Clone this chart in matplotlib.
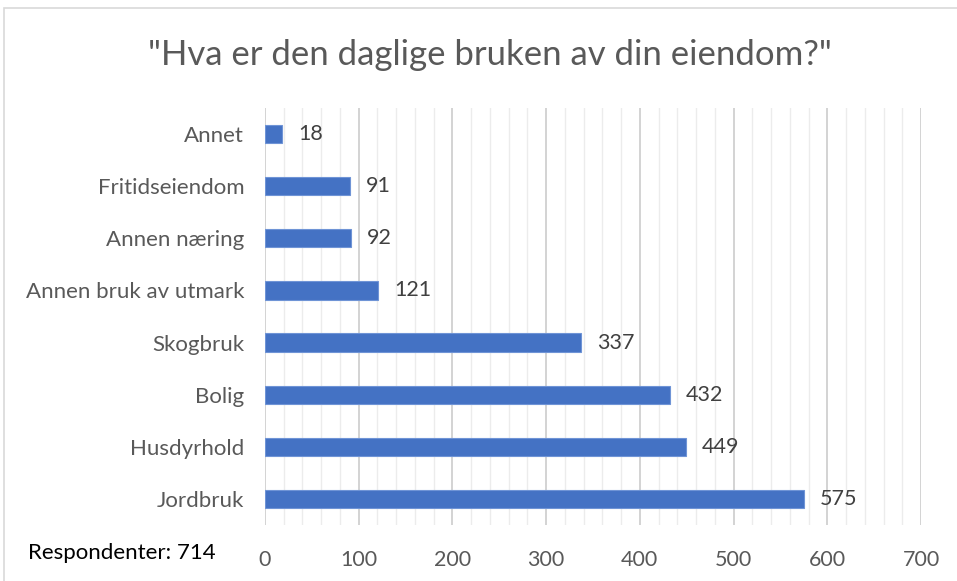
import matplotlib.pyplot as plt
from matplotlib.patches import Rectangle
from matplotlib.ticker import MultipleLocator

plt.rcParams['font.family'] = ['Lato', 'DejaVu Sans']

categories = ["Jordbruk", "Husdyrhold", "Bolig", "Skogbruk",
              "Annen bruk av utmark", "Annen næring", "Fritidseiendom", "Annet"]
values = [575, 449, 432, 337, 121, 92, 91, 18]
x_ticks = [0, 100, 200, 300, 400, 500, 600, 700]

fig = plt.figure(figsize=(9.57, 5.81), dpi=100)

# outer chart frame
fig.patches.append(Rectangle((4 / 957, -0.1), 1.1, 1 - 8 / 581 + 0.1,
                             transform=fig.transFigure, fill=False,
                             edgecolor="#d9d9d9", linewidth=1.2))

ax = fig.add_axes([265 / 957, 1 - 525 / 581, 656 / 957, 417 / 581])

ypos = list(range(len(categories)))
ax.barh(ypos, values, height=0.35, color="#4472c4", edgecolor="#6f94d6", linewidth=0.8, zorder=3)

for y, v in zip(ypos, values):
    ax.text(v + 17, y, str(v), va="center", ha="left", fontsize=15.5, color="#404040")

ax.set_xlim(0, 700)
ax.set_ylim(-0.5, len(categories) - 0.5)
ax.set_xticks(x_ticks)
ax.xaxis.set_minor_locator(MultipleLocator(20))
ax.set_yticks(ypos)
ax.set_yticklabels(categories)

ax.grid(axis="x", which="major", color="#d0d0d0", linewidth=1.3, zorder=0)
ax.grid(axis="x", which="minor", color="#ececec", linewidth=1.0, zorder=0)
for s in ax.spines.values():
    s.set_visible(False)
ax.tick_params(axis="both", which="both", length=0)
ax.tick_params(axis="x", labelsize=15.5, labelcolor="#595959", pad=18)
ax.tick_params(axis="y", labelsize=16, labelcolor="#595959", pad=15)

fig.text(490 / 957, 1 - 55 / 581, '"Hva er den daglige bruken av din eiendom?"',
         ha="center", va="center", fontsize=25, color="#595959")
fig.text(28 / 957, 1 - 553 / 581, "Respondenter: 714",
         ha="left", va="center", fontsize=16, color="black")

fig.savefig("out.png", dpi=100)
